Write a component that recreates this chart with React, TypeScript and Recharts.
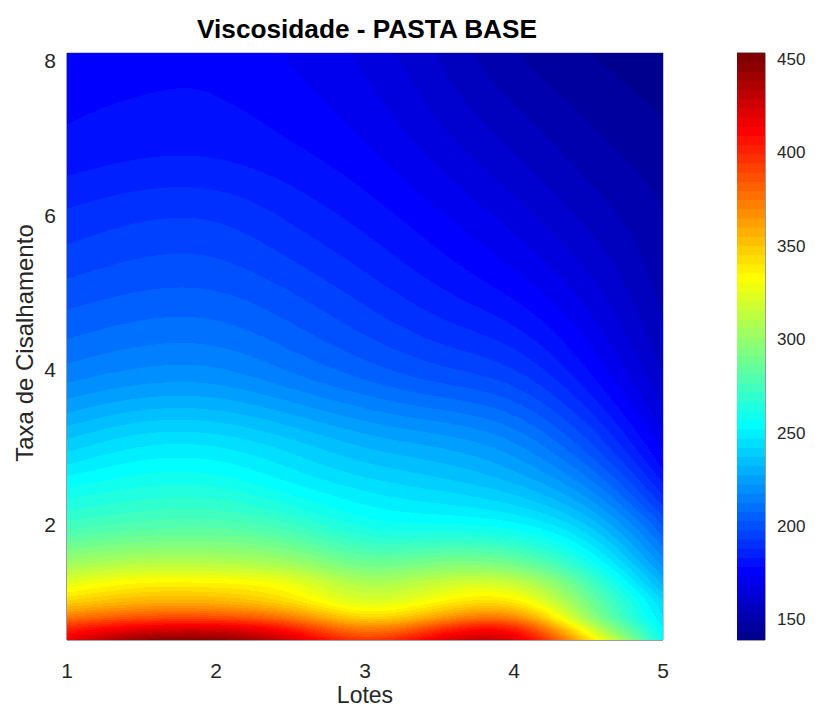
import React from 'react';
import { ScatterChart, Scatter, XAxis, YAxis, ReferenceArea, ReferenceLine, Label } from 'recharts';

// Grid positions: lot (x) and shear rate (y)
const LOTES = [1, 1.5, 2, 2.5, 3, 3.5, 4, 4.5, 5];
const TAXAS = [0.5, 0.65, 0.8, 1.0, 1.25, 1.5, 2.0, 2.5, 3.0, 4.0, 5.0, 6.0, 7.0, 8.1];

// Viscosity along the lots, one array per shear rate
const VISC_T050 = [416, 443, 446, 424, 396, 418, 420, 345, 256];
const VISC_T065 = [400, 417, 420, 402, 372, 394, 400, 322, 252];
const VISC_T080 = [374, 386, 387, 372, 345, 362, 368, 302, 247];
const VISC_T100 = [346, 356, 356, 343, 323, 335, 338, 290, 242];
const VISC_T125 = [324, 334, 334, 326, 307, 315, 314, 276, 230];
const VISC_T150 = [303, 310, 310, 303, 288, 292, 288, 260, 220];
const VISC_T200 = [273, 278, 279, 272, 260, 257, 253, 236, 202];
const VISC_T250 = [256, 261, 261, 253, 245, 240, 233, 216, 184];
const VISC_T300 = [240, 247, 247, 240, 232, 227, 219, 200, 172];
const VISC_T400 = [214, 218, 218, 212, 205, 199, 193, 178, 158];
const VISC_T500 = [200, 203, 203, 198, 191, 184, 177, 166, 152];
const VISC_T600 = [189, 192, 192, 187, 181, 174, 166, 157, 149];
const VISC_T700 = [179, 181, 181, 178, 173, 165, 157, 150, 145];
const VISC_T810 = [176, 177, 177, 173, 167, 158, 149, 144, 140];

const VISCOSIDADE = [
  VISC_T050, VISC_T065, VISC_T080, VISC_T100, VISC_T125, VISC_T150, VISC_T200,
  VISC_T250, VISC_T300, VISC_T400, VISC_T500, VISC_T600, VISC_T700, VISC_T810,
];

const X_TICKS = [1, 2, 3, 4, 5];
const Y_TICKS = [2, 4, 6, 8];
const CB_TICKS = [150, 200, 250, 300, 350, 400, 450];

const X_DOMAIN: [number, number] = [1, 5];
const Y_DOMAIN: [number, number] = [0.5, 8.1];
const C_MIN = 139;
const C_MAX = 453;

// Layout
const W = 824;
const H = 707;
const PLOT_LEFT = 67;
const PLOT_TOP = 53;
const PLOT_RIGHT = 663;
const PLOT_BOTTOM = 640;
const PLOT_W = PLOT_RIGHT - PLOT_LEFT;
const PLOT_H = PLOT_BOTTOM - PLOT_TOP;
const KX = PLOT_W / (X_DOMAIN[1] - X_DOMAIN[0]);
const KY = PLOT_H / (Y_DOMAIN[1] - Y_DOMAIN[0]);
const CB_LEFT = 737;
const CB_WIDTH = 28;
const STEP = 2;

const FONT = 'Liberation Sans, Arial, Helvetica, sans-serif';
const TEXT = '#262626';

// jet colormap, 64 levels
const N_COLORS = 64;
function jet(k: number): string {
  const f = (k + 1) / N_COLORS;
  const c = (o: number) => Math.max(0, Math.min(1, 1.5 - Math.abs(4 * f - o)));
  const to = (u: number) => Math.round(u * 255);
  return `rgb(${to(c(3))},${to(c(2))},${to(c(1))})`;
}
const JET = Array.from({ length: N_COLORS }, (_, k) => jet(k));
const colorIndex = (v: number) =>
  Math.max(0, Math.min(N_COLORS - 1, Math.floor(((v - C_MIN) / (C_MAX - C_MIN)) * N_COLORS)));

// natural cubic spline along the lots
function splineSecondDerivs(xs: number[], ys: number[]): number[] {
  const n = xs.length;
  const m = new Array(n).fill(0);
  const a: number[] = [], b: number[] = [], c: number[] = [], d: number[] = [];
  for (let i = 1; i < n - 1; i++) {
    const h0 = xs[i] - xs[i - 1];
    const h1 = xs[i + 1] - xs[i];
    a.push(h0);
    b.push(2 * (h0 + h1));
    c.push(h1);
    d.push(6 * ((ys[i + 1] - ys[i]) / h1 - (ys[i] - ys[i - 1]) / h0));
  }
  const k = b.length;
  for (let i = 1; i < k; i++) {
    const w = a[i] / b[i - 1];
    b[i] -= w * c[i - 1];
    d[i] -= w * d[i - 1];
  }
  const sol = new Array(k);
  sol[k - 1] = d[k - 1] / b[k - 1];
  for (let i = k - 2; i >= 0; i--) sol[i] = (d[i] - c[i] * sol[i + 1]) / b[i];
  for (let i = 0; i < k; i++) m[i + 1] = sol[i];
  return m;
}
function splineEval(xs: number[], ys: number[], m: number[], x: number): number {
  let i = 0;
  while (i < xs.length - 2 && x > xs[i + 1]) i++;
  const h = xs[i + 1] - xs[i];
  const t = (x - xs[i]) / h;
  const u = 1 - t;
  return u * ys[i] + t * ys[i + 1] + ((u * u * u - u) * m[i] + (t * t * t - t) * m[i + 1]) * h * h / 6;
}
const ROW_M = VISCOSIDADE.map((row) => splineSecondDerivs(LOTES, row));

// shape-preserving cubic along the shear rate
function endSlope(h0: number, h1: number, d0: number, d1: number): number {
  let d = ((2 * h0 + h1) * d0 - h0 * d1) / (h0 + h1);
  if (Math.sign(d) !== Math.sign(d0)) d = 0;
  else if (Math.sign(d0) !== Math.sign(d1) && Math.abs(d) > Math.abs(3 * d0)) d = 3 * d0;
  return d;
}
function pchipSlopes(xs: number[], ys: number[]): number[] {
  const n = xs.length;
  const h: number[] = [], del: number[] = [];
  for (let i = 0; i < n - 1; i++) {
    h[i] = xs[i + 1] - xs[i];
    del[i] = (ys[i + 1] - ys[i]) / h[i];
  }
  const d = new Array(n).fill(0);
  for (let i = 1; i < n - 1; i++) {
    if (del[i - 1] * del[i] > 0) {
      const w1 = 2 * h[i] + h[i - 1];
      const w2 = h[i] + 2 * h[i - 1];
      d[i] = (w1 + w2) / (w1 / del[i - 1] + w2 / del[i]);
    }
  }
  d[0] = endSlope(h[0], h[1], del[0], del[1]);
  d[n - 1] = endSlope(h[n - 2], h[n - 3], del[n - 2], del[n - 3]);
  return d;
}
function hermite(xs: number[], ys: number[], d: number[], x: number): number {
  let i = 0;
  while (i < xs.length - 2 && x > xs[i + 1]) i++;
  const h = xs[i + 1] - xs[i];
  const t = (x - xs[i]) / h;
  const t2 = t * t;
  const t3 = t2 * t;
  return (2 * t3 - 3 * t2 + 1) * ys[i] + (t3 - 2 * t2 + t) * h * d[i] + (-2 * t3 + 3 * t2) * ys[i + 1] + (t3 - t2) * h * d[i + 1];
}

const columnCache = new Map<number, { vals: number[]; d: number[] }>();
function columnAt(lote: number) {
  const key = Math.round(lote * 10000);
  let col = columnCache.get(key);
  if (!col) {
    const vals = VISCOSIDADE.map((row, j) => splineEval(LOTES, row, ROW_M[j], lote));
    col = { vals, d: pchipSlopes(TAXAS, vals) };
    columnCache.set(key, col);
  }
  return col;
}

type Node = { lote: number; taxa: number; visc: number; i: number; j: number };
const NODES: Node[] = [];
TAXAS.forEach((taxa, j) => {
  LOTES.forEach((lote, i) => {
    NODES.push({ lote, taxa, visc: VISCOSIDADE[j][i], i, j });
  });
});

// Each grid node paints the area around it with the interpolated field
const HeatCell = (props: any) => {
  const { cx, cy, payload } = props;
  if (cx == null || cy == null || !payload) return null;
  const { i, j, lote, taxa } = payload as Node;
  const xa = i === 0 ? X_DOMAIN[0] : (LOTES[i - 1] + LOTES[i]) / 2;
  const xb = i === LOTES.length - 1 ? X_DOMAIN[1] : (LOTES[i] + LOTES[i + 1]) / 2;
  const ya = j === 0 ? Y_DOMAIN[0] : (TAXAS[j - 1] + TAXAS[j]) / 2;
  const yb = j === TAXAS.length - 1 ? Y_DOMAIN[1] : (TAXAS[j] + TAXAS[j + 1]) / 2;
  const left = Math.round(cx + (xa - lote) * KX);
  const right = Math.round(cx + (xb - lote) * KX);
  const top = Math.round(cy - (yb - taxa) * KY);
  const bottom = Math.round(cy - (ya - taxa) * KY);
  const rects: React.ReactNode[] = [];
  for (let px = left; px < right; px += STEP) {
    const w = Math.min(STEP, right - px);
    const xv = lote + (px + w / 2 - cx) / KX;
    const col = columnAt(xv);
    let runStart = top;
    let runIdx = -1;
    for (let py = top; py <= bottom; py++) {
      let idx = -2;
      if (py < bottom) {
        const yv = taxa - (py + 0.5 - cy) / KY;
        idx = colorIndex(hermite(TAXAS, col.vals, col.d, yv));
      }
      if (idx !== runIdx) {
        if (runIdx >= 0) {
          rects.push(
            <rect key={`${px}-${runStart}`} x={px} y={runStart} width={w} height={py - runStart} fill={JET[runIdx]} />
          );
        }
        runStart = py;
        runIdx = idx;
      }
    }
  }
  return <g shapeRendering="crispEdges">{rects}</g>;
};

// Colour bar swatches, one per colormap level
const COLORBAR_LEVELS = JET.map((fill, k) => ({
  x: 0.5,
  y: C_MIN + ((k + 0.5) * (C_MAX - C_MIN)) / N_COLORS,
  fill,
}));
const LEVEL_PX = PLOT_H / N_COLORS;

const ColorSwatch = (props: any) => {
  const { cx, cy, payload } = props;
  if (cx == null || cy == null || !payload) return null;
  return (
    <rect
      x={cx - CB_WIDTH / 2}
      y={cy - LEVEL_PX / 2 - 0.4}
      width={CB_WIDTH}
      height={LEVEL_PX + 0.8}
      fill={payload.fill}
    />
  );
};

const tickStyle = { fontFamily: FONT, fontSize: 21, fill: TEXT };

export default function App() {
  return (
    <div style={{ position: 'absolute', left: 0, top: 0, width: W, height: H, background: '#fff' }}>
      <div style={{ position: 'absolute', left: 0, top: 0 }}>
        <ScatterChart
          width={W}
          height={H}
          margin={{ top: PLOT_TOP, right: W - PLOT_RIGHT, bottom: 0, left: 0 }}
        >
          <XAxis
            type="number"
            dataKey="lote"
            domain={X_DOMAIN}
            ticks={X_TICKS}
            allowDataOverflow
            height={H - PLOT_BOTTOM}
            tickSize={0}
            tickMargin={23}
            tick={tickStyle}
            axisLine={{ stroke: '#3a3a3a', strokeWidth: 1 }}
            tickLine={false}
          >
            <Label
              content={(p: any) => {
                const vb = p.viewBox || { x: PLOT_LEFT, y: PLOT_BOTTOM, width: PLOT_W, height: H - PLOT_BOTTOM };
                return (
                  <text
                    x={vb.x + vb.width / 2}
                    y={703}
                    textAnchor="middle"
                    fontFamily={FONT}
                    fontSize={23}
                    fill={TEXT}
                  >
                    Lotes
                  </text>
                );
              }}
            />
          </XAxis>
          <YAxis
            type="number"
            dataKey="taxa"
            domain={Y_DOMAIN}
            ticks={Y_TICKS}
            allowDataOverflow
            width={PLOT_LEFT}
            tickSize={0}
            tickMargin={11}
            tick={tickStyle}
            axisLine={{ stroke: '#3a3a3a', strokeWidth: 1 }}
            tickLine={false}
          >
            <Label
              content={() => (
                <text
                  x={33}
                  y={343}
                  transform="rotate(-90, 33, 343)"
                  textAnchor="middle"
                  fontFamily={FONT}
                  fontSize={24}
                  fill={TEXT}
                >
                  Taxa de Cisalhamento
                </text>
              )}
            />
          </YAxis>
          <Scatter data={NODES} shape={HeatCell} isAnimationActive={false} />
          <ReferenceLine y={Y_DOMAIN[1]} stroke="#9a9a9a" strokeWidth={1} />
          <ReferenceLine x={X_DOMAIN[1]} stroke="#8a8a8a" strokeWidth={1} />
        </ScatterChart>
      </div>

      <div style={{ position: 'absolute', left: CB_LEFT, top: 0 }}>
        <ScatterChart
          width={W - CB_LEFT}
          height={H}
          margin={{ top: PLOT_TOP, right: 0, bottom: H - PLOT_BOTTOM, left: 0 }}
        >
          <XAxis type="number" dataKey="x" domain={[0, 1]} hide />
          <YAxis
            type="number"
            dataKey="y"
            orientation="right"
            domain={[C_MIN, C_MAX]}
            ticks={CB_TICKS}
            allowDataOverflow
            width={W - CB_LEFT - CB_WIDTH}
            tickSize={0}
            tickMargin={12}
            tick={{ fontFamily: FONT, fontSize: 17, fill: TEXT }}
            axisLine={false}
            tickLine={false}
          />
          <Scatter data={COLORBAR_LEVELS} shape={ColorSwatch} isAnimationActive={false} />
          {CB_TICKS.map((t) => (
            <ReferenceLine
              key={`l${t}`}
              segment={[{ x: 0, y: t }, { x: 0.18, y: t }]}
              stroke="#3a3a3a"
              strokeWidth={1}
            />
          ))}
          {CB_TICKS.map((t) => (
            <ReferenceLine
              key={`r${t}`}
              segment={[{ x: 0.82, y: t }, { x: 1, y: t }]}
              stroke="#3a3a3a"
              strokeWidth={1}
            />
          ))}
          <ReferenceArea
            x1={0}
            x2={1}
            y1={C_MIN}
            y2={C_MAX}
            fill="none"
            fillOpacity={0}
            stroke="#3a3a3a"
            strokeWidth={1}
          />
        </ScatterChart>
      </div>

      <svg
        width={W}
        height={50}
        style={{ position: 'absolute', left: 0, top: 0, pointerEvents: 'none' }}
      >
        <text
          x={367}
          y={38}
          textAnchor="middle"
          fontFamily={FONT}
          fontWeight="bold"
          fontSize={25}
          fill="#000"
          textLength={340}
          lengthAdjust="spacingAndGlyphs"
        >
          Viscosidade - PASTA BASE
        </text>
      </svg>
    </div>
  );
}
